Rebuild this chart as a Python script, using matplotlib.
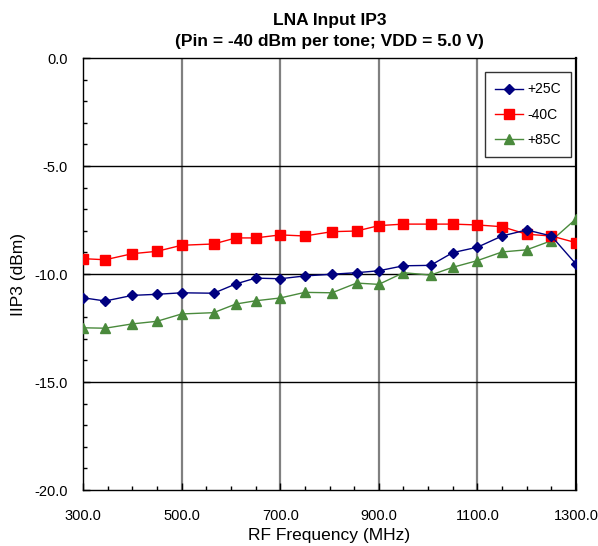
import matplotlib
matplotlib.use("Agg")
import matplotlib.pyplot as plt
from matplotlib.ticker import MultipleLocator, FormatStrFormatter

plt.rcParams['font.family'] = ['Liberation Sans', 'DejaVu Sans']

freq = [300, 345, 400, 450, 500, 565, 610, 650, 700, 750, 805, 855, 900, 950,
        1005, 1050, 1100, 1150, 1200, 1250, 1300]
iip3_25c = [-11.10, -11.25, -10.99, -10.94, -10.87, -10.89, -10.46, -10.19, -10.22, -10.09,
            -10.01, -9.94, -9.85, -9.62, -9.60, -9.01, -8.76, -8.24, -7.96, -8.24, -9.54]
iip3_m40c = [-9.29, -9.34, -9.06, -8.95, -8.67, -8.61, -8.33, -8.33, -8.19, -8.24,
             -8.04, -8.01, -7.76, -7.69, -7.69, -7.69, -7.73, -7.81, -8.16, -8.24, -8.55]
iip3_85c = [-12.49, -12.51, -12.31, -12.19, -11.85, -11.79, -11.39, -11.24, -11.11, -10.85,
            -10.87, -10.42, -10.48, -9.94, -10.05, -9.69, -9.38, -8.98, -8.88, -8.46, -7.45]

fig = plt.figure(figsize=(5.98, 5.46), dpi=100)
ax = fig.add_axes([83/598, 1-490/546, (576-83)/598, (490-58)/546])

ax.plot(freq, iip3_25c, color='#000080', marker='D', markersize=5, linewidth=1.0, label='+25C', zorder=5)
ax.plot(freq, iip3_m40c, color='#FF0000', marker='s', markersize=6.5, linewidth=1.0, label='-40C', zorder=4)
ax.plot(freq, iip3_85c, color='#4A8A3C', marker='^', markersize=7, linewidth=1.0, label='+85C', zorder=3)

ax.set_xlim(300, 1300)
ax.set_ylim(-20, 0)
ax.xaxis.set_major_locator(MultipleLocator(200, offset=100))
ax.xaxis.set_minor_locator(MultipleLocator(50))
ax.yaxis.set_major_locator(MultipleLocator(5))
ax.yaxis.set_minor_locator(MultipleLocator(1))
ax.xaxis.set_major_formatter(FormatStrFormatter('%.1f'))
ax.yaxis.set_major_formatter(FormatStrFormatter('%.1f'))

for x in [500, 700, 900, 1100]:
    ax.axvline(x, color='#808080', linewidth=1.6, zorder=1)
for y in [-5, -10, -15]:
    ax.axhline(y, color='black', linewidth=1.0, zorder=1)

ax.tick_params(which='major', direction='in', length=5, width=1, labelsize=10.5)
ax.tick_params(axis='x', which='major', pad=14)
ax.tick_params(axis='y', which='major', pad=11)
ax.tick_params(which='minor', direction='in', length=3, width=1)
for s in ax.spines.values():
    s.set_color('black')
    s.set_linewidth(1.0)
ax.spines['right'].set_linewidth(1.6)

ax.set_xlabel('RF Frequency (MHz)', fontsize=12.5, labelpad=3)
ax.set_ylabel('IIP3 (dBm)', fontsize=12.5, labelpad=6)
ax.set_title('LNA Input IP3\n(Pin = -40 dBm per tone; VDD = 5.0 V)', fontsize=12.5,
             fontweight='bold', linespacing=1.5, pad=9)

leg = ax.legend(loc='upper right', bbox_to_anchor=(571/598, 1-72/546), bbox_transform=fig.transFigure,
                fontsize=10, frameon=True, fancybox=False, edgecolor='black',
                handlelength=2.0, borderpad=0.75, labelspacing=0.8, handletextpad=0.3,
                borderaxespad=0)
leg.get_frame().set_linewidth(1.0)

fig.savefig('out.png', dpi=100)
